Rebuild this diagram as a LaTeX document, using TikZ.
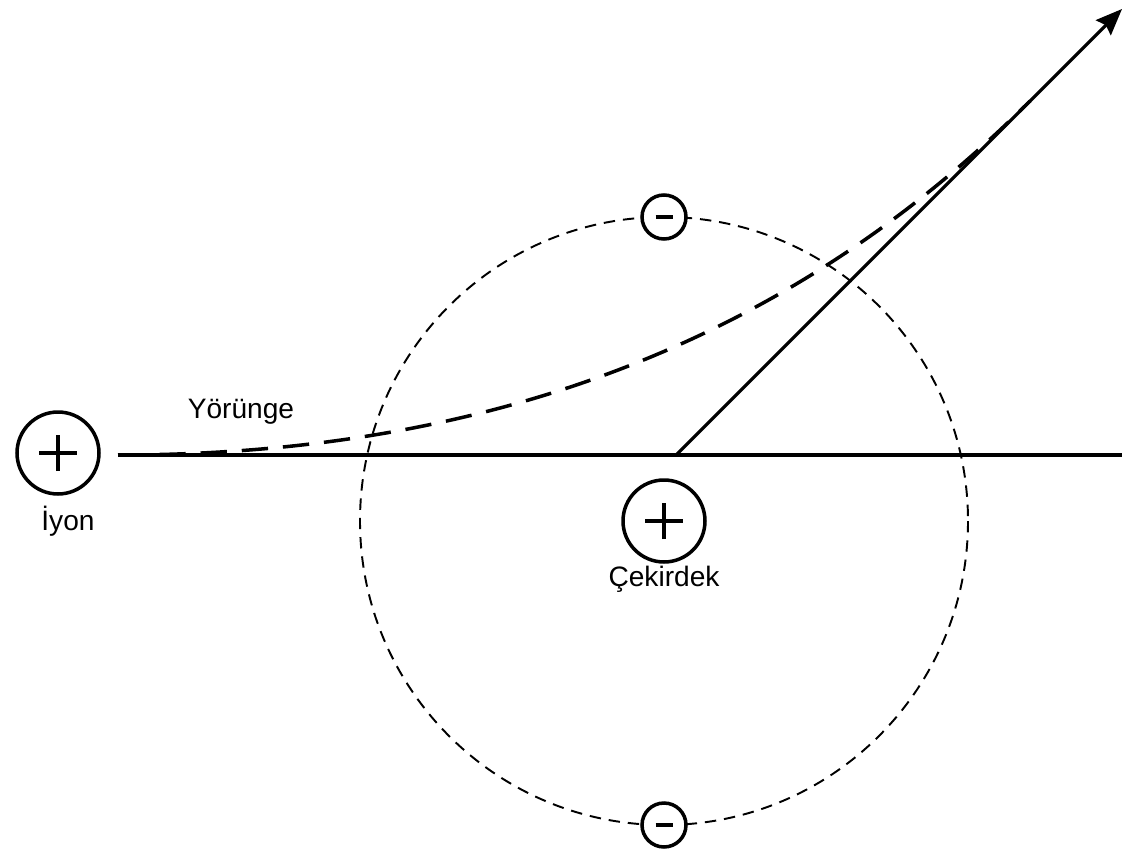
\documentclass[tikz,border=0pt]{standalone}
\usepackage{fontspec}
\setmainfont{Liberation Sans}
\usepackage{tikz}
\usetikzlibrary{arrows.meta, positioning, calc}

\begin{document}
\begin{tikzpicture}[
  x=0.02cm, y=-0.02cm,
  every node/.style={font=\fontsize{16}{19}\selectfont},
  charge/.style={
    draw, circle, line width=2pt, inner sep=0pt
  },
  positive/.style={
    charge, minimum size=1.64cm,
    path picture={
      \draw[line width=2pt] (path picture bounding box.center) ++(-0.38cm,0) -- ++(0.76cm,0);
      \draw[line width=2pt] (path picture bounding box.center) ++(0,-0.36cm) -- ++(0,0.72cm);
    }
  },
  negative/.style={
    charge, minimum size=0.88cm, fill=white,
    path picture={
      \draw[line width=2pt] (path picture bounding box.center) ++(-0.17cm,0) -- ++(0.34cm,0);
    }
  },
  shell/.style={line width=1.1pt, dash pattern=on 6.5pt off 4.5pt},
  orbit/.style={line width=2pt, dash pattern=on 15pt off 8.5pt},
  axis/.style={line width=1.8pt},
  arrow/.style={-{Stealth[length=15pt, width=12pt, inset=2pt]}, line width=1.8pt},
  label/.style={anchor=base, inner sep=0pt}
]

  \useasboundingbox (0,0) rectangle (1125,848);

  % Ladungen
  \node[positive] (ion) at (58,453) {};
  \node[positive] (nucleus) at (664,521) {};

  % Elektronenschale
  \draw[shell] (nucleus.center) circle[radius=304];
  \node[negative] (etop) at (664,217) {};
  \node[negative] (ebottom) at (664,825) {};

  % Beschriftungen
  \node[label] (ionlabel) at (68,530) {İyon};
  \node[label] (nuclabel) at (664,586) {Çekirdek};
  \node[label] (orbitlabel) at (241,418) {Yörünge};

  % Achse und Ablenkung
  \coordinate (start) at (118,455);
  \coordinate (right) at (1122,455);
  \coordinate (pivot) at (676,455);
  \coordinate (tip) at (1122,9);
  \draw[axis] (start) -- (right);
  \draw[arrow] (pivot) -- (tip);

  % Bahn des Ions
  \draw[orbit] (start) .. controls (520,455) and (810,321) .. (1030,101);

\end{tikzpicture}
\end{document}
